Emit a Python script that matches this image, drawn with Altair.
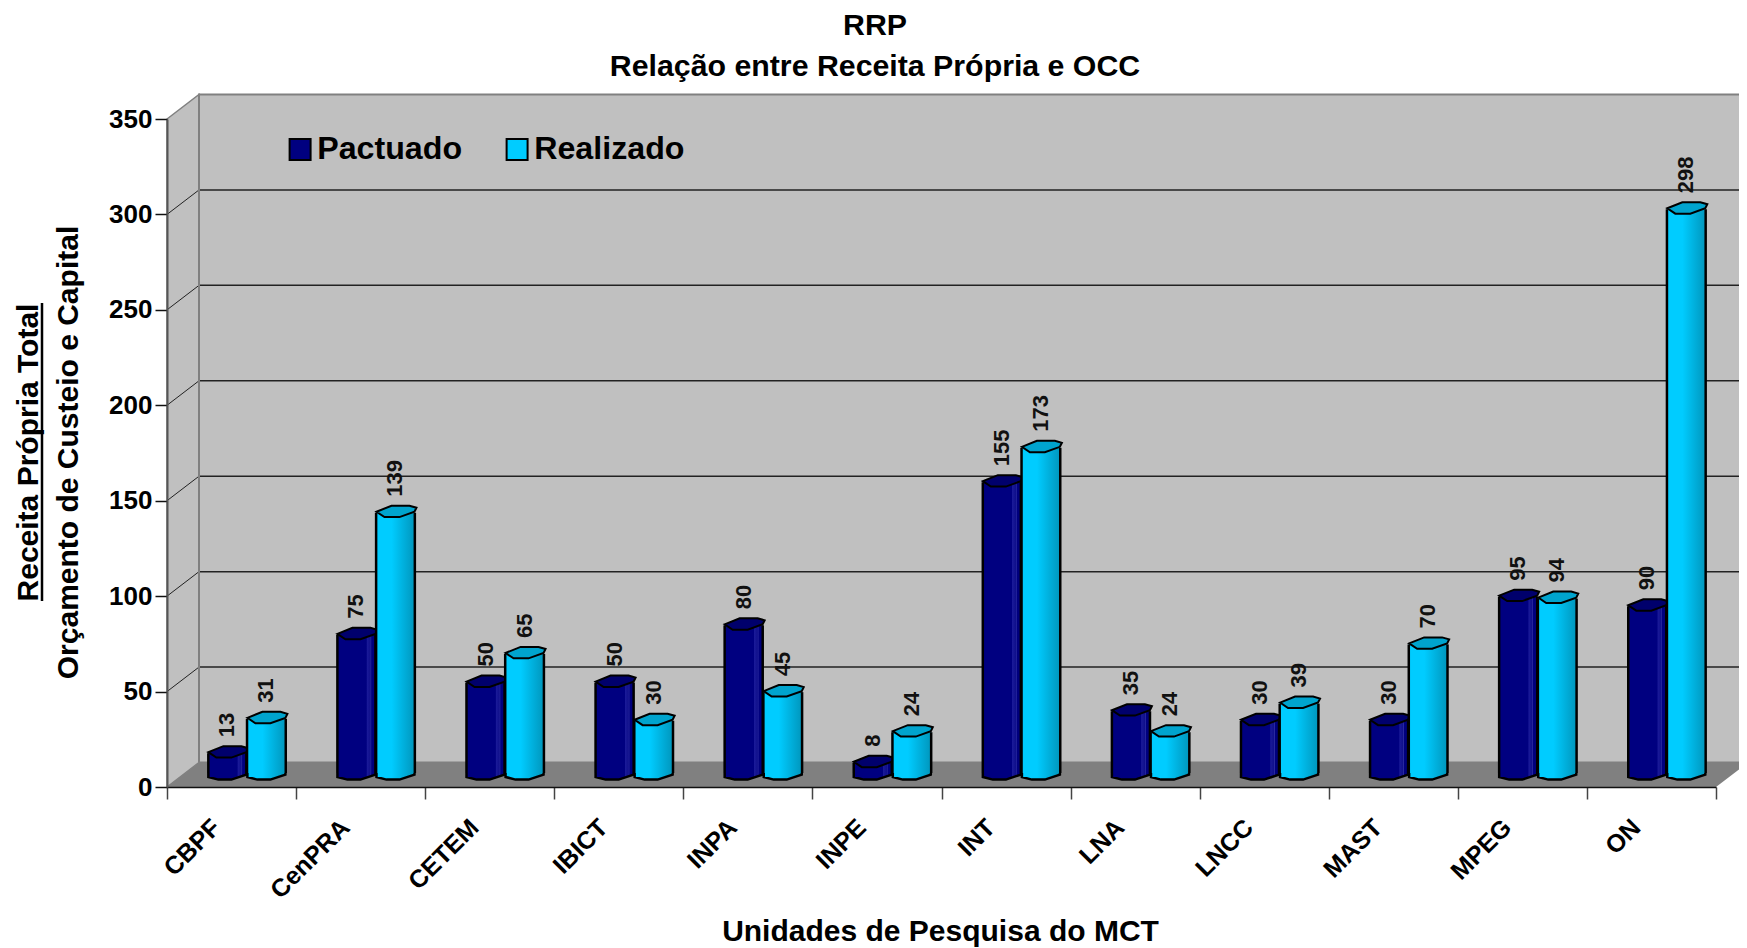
import altair as alt
import pandas as pd

CATEGORIES = ["CBPF", "CenPRA", "CETEM", "IBICT", "INPA", "INPE", "INT", "LNA", "LNCC", "MAST", "MPEG", "ON"]
PACTUADO = [13, 75, 50, 50, 80, 8, 155, 35, 30, 30, 95, 90]
REALIZADO = [31, 139, 65, 30, 45, 24, 173, 24, 39, 70, 94, 298]
Y_TICKS = [0, 50, 100, 150, 200, 250, 300, 350]
GRID = [50, 100, 150, 200, 250, 300]
SERIES = ["Pactuado", "Realizado"]

FONT = "Liberation Sans"
W, H = 1549, 668
N = len(CATEGORIES)
UNIT_Y = H / 350
DX = 32 / (W / N)
DY = 24.5 / UNIT_Y
LIFT = 9 / UNIT_Y
SIDE = 5 / UNIT_Y

x_scale = alt.Scale(domain=[0, N], range=[0, W], nice=False, zero=False)
y_scale = alt.Scale(domain=[0, 350], range=[H, 0], nice=False, zero=False)

label_js = "[" + ",".join(f"'{c}'" for c in CATEGORIES) + "][datum.value] || ''"
x_axis = alt.Axis(
    values=list(range(N + 1)), labelExpr=label_js, labelAngle=-45, labelAlign="right", labelBaseline="middle",
    labelOffset=49, labelPadding=24, labelFont=FONT, labelFontSize=25, labelFontWeight="bold", labelColor="black",
    labelOverlap=False, labelBound=False, labelFlush=False, tickSize=12, tickColor="#444", tickWidth=1.5,
    domainColor="#111", domainWidth=1.5, grid=False, zindex=1,
    title="Unidades de Pesquisa do MCT", titleFont=FONT, titleFontSize=30, titleFontWeight="bold", titleColor="black",
    titleX=773, titleY=144, titleBaseline="middle", titleAnchor="middle", titleAlign="center",
)
y_axis = alt.Axis(
    values=Y_TICKS, labelFont=FONT, labelFontSize=26, labelFontWeight="bold", labelColor="black", labelPadding=3,
    tickSize=12, tickColor="#111", tickWidth=1.5, domainColor="#555", domainWidth=2, grid=False, zindex=1,
    title=["Receita Própria Total", "Orçamento de Custeio e Capital"], titleFont=FONT, titleFontSize=30,
    titleFontWeight="bold", titleColor="black", titleLineHeight=40, titleAngle=-90, titleX=-139, titleY=333,
    titleAlign="center", titleBaseline="middle", titleAnchor="middle",
)


def X(f, **k):
    return alt.X(f"{f}:Q", scale=x_scale, axis=x_axis, **k)


def Y(f, **k):
    return alt.Y(f"{f}:Q", scale=y_scale, axis=y_axis, **k)


back = alt.Chart(pd.DataFrame([{"x0": DX, "x1": N + DX, "y0": DY, "y1": 350 + DY}])).mark_rect(
    fill="#C0C0C0", stroke="#808080", strokeWidth=2
).encode(x=X("x0"), x2="x1:Q", y=Y("y0"), y2="y1:Q")
side = alt.Chart(pd.DataFrame([{"x": 0, "y": 350, "y2": 0}, {"x": DX, "y": 350 + DY, "y2": DY}])).mark_area(
    fill="#C0C0C0", stroke="#808080", strokeWidth=1.5, orient="vertical", opacity=1
).encode(x=X("x"), y=Y("y"), y2="y2:Q")
floor = alt.Chart(pd.DataFrame([
    {"x": 0, "y": 0, "y2": 0}, {"x": DX, "y": DY, "y2": 0}, {"x": N, "y": DY, "y2": 0}, {"x": N + DX, "y": DY, "y2": DY},
])).mark_area(fill="#808080", orient="vertical", opacity=1).encode(x=X("x"), y=Y("y"), y2="y2:Q")

grid_back = alt.Chart(pd.DataFrame({"v": [g + DY for g in GRID], "x0": DX, "x1": N + DX})).mark_rule(
    color="#222", strokeWidth=1.5
).encode(x=X("x0"), x2="x1:Q", y=Y("v"))
diag_rows = []
for g in GRID:
    diag_rows += [{"g": g, "x": 0, "y": g}, {"g": g, "x": DX, "y": g + DY}]
grid_side = alt.Chart(pd.DataFrame(diag_rows)).mark_line(color="#222", strokeWidth=1).encode(
    x=X("x"), y=Y("y"), detail="g:N", order="x:Q"
)
back_edge = alt.Chart(pd.DataFrame([{"x": DX, "y0": DY, "y1": 350 + DY}])).mark_rule(
    color="#808080", strokeWidth=2
).encode(x=X("x"), y=Y("y0"), y2="y1:Q")


def frame(values, name, start, stop):
    rows = []
    for i, (c, v) in enumerate(zip(CATEGORIES, values)):
        rows.append({
            "cat": c, "series": name, "value": v, "x0": i + start, "x1": i + stop, "xc": i + (start + stop) / 2,
            "top": v + LIFT, "base": LIFT, "sidebase": LIFT + SIDE,
        })
    return pd.DataFrame(rows)


def grad(stops):
    return alt.Gradient(gradient="linear", x1=0, x2=1, y1=0, y2=0,
                        stops=[alt.GradientStop(offset=o, color=c) for o, c in stops])


CAP = "M-0.95 -0.05 L-0.2 -0.35 L0.7 -0.35 L1.05 -0.25 L0.95 -0.05 L0.2 0.22 L-0.55 0.22 Z"
BOTTOM_FILL = "M-0.95 -0.25 L-0.95 -0.05 L-0.45 0.08 L0.2 0.08 L0.95 -0.17 L0.95 -0.25 Z"
BOTTOM_LINE = "M-0.95 -0.25 L-0.95 -0.05 L-0.45 0.08 L0.2 0.08 L0.95 -0.17 L0.95 -0.25"


def series_layers(df, fill, cap):
    b = alt.Chart(df)
    return [
        b.mark_bar(fill=fill, strokeWidth=0).encode(x=X("x0"), x2="x1:Q", y=Y("top"), y2="sidebase:Q"),
        b.mark_point(shape=BOTTOM_FILL, size=1600, filled=True, fill=fill, opacity=1, strokeWidth=0).encode(
            x=X("xc"), y=Y("base")),
        b.mark_point(shape=BOTTOM_LINE, size=1600, filled=False, fill="transparent", stroke="black", opacity=1,
                     strokeWidth=2.5).encode(x=X("xc"), y=Y("base")),
        b.mark_rule(color="black", strokeWidth=2.5).encode(x=X("x0"), y=Y("top"), y2="sidebase:Q"),
        b.mark_rule(color="black", strokeWidth=2.5).encode(x=X("x1"), y=Y("top"), y2="sidebase:Q"),
        b.mark_point(shape=CAP, size=1600, filled=True, fill=cap, stroke="black", opacity=1, strokeWidth=2).encode(
            x=X("xc"), y=Y("top")),
        b.mark_text(angle=270, align="left", baseline="middle", dx=25, font=FONT, fontSize=22, fontWeight="bold",
                    color="#111").encode(x=X("xc"), y=Y("value"), text="value:Q"),
    ]


df_p = frame(PACTUADO, SERIES[0], 0.32, 0.615)
df_r = frame(REALIZADO, SERIES[1], 0.62, 0.92)

legend_bars = alt.Chart(pd.concat([df_p, df_r])).mark_bar(strokeWidth=0).encode(
    x=X("x0"), x2="x1:Q", y=Y("top"), y2="sidebase:Q",
    color=alt.Color("series:N", scale=alt.Scale(domain=SERIES, range=["#000080", "#00CCFF"]), legend=alt.Legend(
        orient="none", legendX=117, legendY=14, direction="horizontal", columns=2, title=None,
        symbolType="square", symbolSize=440, symbolStrokeColor="black", symbolStrokeWidth=2, symbolOpacity=1,
        labelFont=FONT, labelFontSize=32.2, labelFontWeight="bold", labelColor="black", labelOffset=1,
        labelLimit=300, columnPadding=38, padding=0,
    )),
)

navy = grad([(0, "#000080"), (0.76, "#000080"), (0.78, "#1A1A99"), (0.86, "#10108C"), (0.88, "#2A2AA0"), (0.9, "#000080"), (1, "#000078")])
cyan = grad([(0, "#00CCFF"), (0.4, "#00CCFF"), (0.75, "#00ACD8"), (1, "#0096BC")])

underline = alt.Chart(pd.DataFrame({"a": [0]})).mark_rule(color="black", strokeWidth=2.5).encode(
    x=alt.value(-125), y=alt.value(184), y2=alt.value(482)
)

layers = [back, side, floor, grid_back, grid_side, back_edge, legend_bars]
layers += series_layers(df_p, navy, "#00006C")
layers += series_layers(df_r, cyan, "#00A4CE")
layers += [underline]

chart = alt.layer(*layers).properties(
    width=W, height=H,
    title=alt.TitleParams(
        text=["RRP", "Relação entre Receita Própria e OCC"], anchor="middle", frame="group", dx=-66.5, offset=9,
        font=FONT, fontSize=30.3, fontWeight="bold", color="black", lineHeight=41,
    ),
    padding={"left": 159, "top": 111, "right": 23, "bottom": 161},
    autosize=alt.AutoSizeParams(type="none"),
    background="white",
).configure_view(strokeWidth=0)

chart.save("out.html", embed_options={"renderer": "svg", "actions": False})
